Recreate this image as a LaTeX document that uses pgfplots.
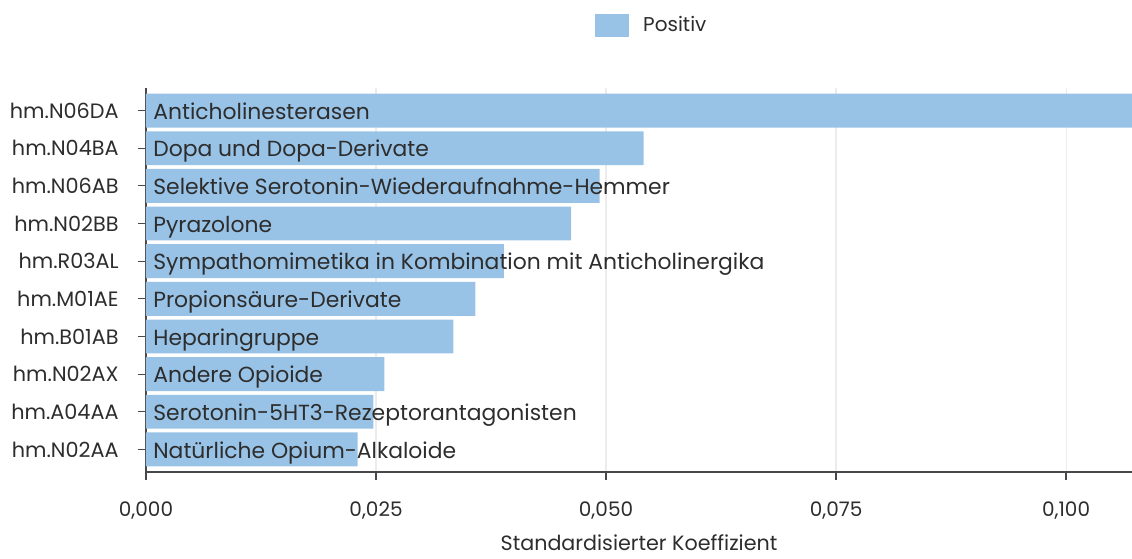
\documentclass[border=0pt]{standalone}
\usepackage{fontspec}
\setmainfont{Poppins}
\usepackage{pgfplots}
\usepackage{pgfplotstable}
\pgfplotsset{compat=1.18}
\definecolor{barblue}{RGB}{152,195,230}
\definecolor{txt}{RGB}{45,45,45}
\definecolor{axl}{RGB}{70,72,76}
\definecolor{grd}{RGB}{236,236,236}
\pgfplotstableread[col sep=comma]{
y,val,label
0,0.1080,Anticholinesterasen
1,0.0541,Dopa und Dopa-Derivate
2,0.0493,Selektive Serotonin-Wiederaufnahme-Hemmer
3,0.0462,Pyrazolone
4,0.0389,Sympathomimetika in Kombination mit Anticholinergika
5,0.0358,Propionsäure-Derivate
6,0.0334,Heparingruppe
7,0.0259,Andere Opioide
8,0.0247,Serotonin-5HT3-Rezeptorantagonisten
9,0.0230,Natürliche Opium-Alkaloide
}\datatab
\begin{document}
\begin{tikzpicture}
\useasboundingbox (0,0) rectangle (849pt,418.5pt);
\begin{axis}[
  at={(109.5pt,64.5pt)}, anchor=south west,
  scale only axis, width=739.5pt, height=288pt,
  xmin=0, xmax=0.10717, ymin=-0.6, ymax=9.6, y dir=reverse,
  axis x line*=bottom, axis y line*=left,
  axis line style={axl, line width=0.9pt},
  xtick={0,0.025,0.05,0.075,0.1},
  ytick={0,...,9},
  yticklabels={hm.N06DA,hm.N04BA,hm.N06AB,hm.N02BB,hm.R03AL,hm.M01AE,hm.B01AB,hm.N02AX,hm.A04AA,hm.N02AA},
  tick align=outside, major tick length=6pt,
  tick style={axl, line width=0.9pt},
  xmajorgrids, major grid style={grd, line width=0.8pt},
  scaled x ticks=false,
  xticklabel style={font=\fontsize{15}{17}\selectfont, text=txt, yshift=-12.5pt, /pgf/number format/.cd, fixed, fixed zerofill, precision=3, use comma, assume math mode=true},
  yticklabel style={font=\fontsize{15.6}{18}\selectfont, text=txt, xshift=-11pt},
  xlabel={Standardisierter Koeffizient},
  xlabel style={font=\fontsize{15.5}{18}\selectfont, text=txt, yshift=-5pt},
  legend style={draw=none, at={(0.513,1.164)}, anchor=center, font=\fontsize{15}{17}\selectfont, text=txt, column sep=9pt},
  legend image code/.code={\fill[barblue] (0pt,-8.6pt) rectangle (25.5pt,8.6pt);},
]
\addplot[xbar, bar width=0.9, bar shift=0pt, fill=barblue, draw=none] table[x=val, y=y] {\datatab};
\addlegendentry{Positiv}
\addplot[only marks, mark=none, nodes near coords, point meta=explicit symbolic,
  every node near coord/.append style={anchor=base west, font=\fontsize{16.4}{19}\selectfont, text=txt, xshift=2pt, yshift=-6.5pt}]
  table[x expr=0, y=y, meta=label] {\datatab};
\end{axis}
\end{tikzpicture}
\end{document}
